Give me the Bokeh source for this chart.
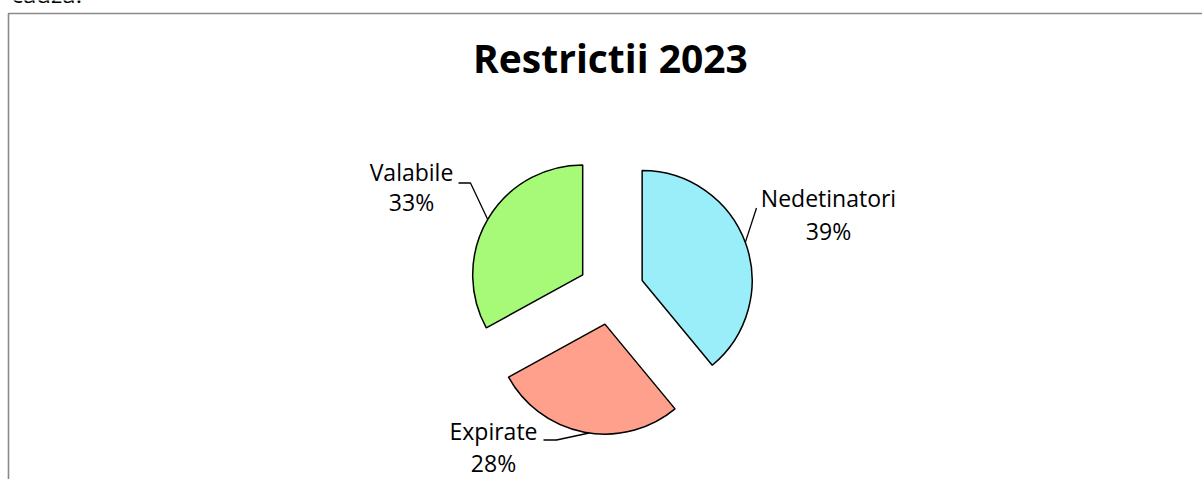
import numpy as np
from bokeh.plotting import figure
from bokeh.models import Range1d, ColumnDataSource
from bokeh.core.properties import value
from bokeh.embed import file_html
from bokeh.resources import INLINE

# ---- data ----
title_text = "Restrictii 2023"
categories = ["Nedetinatori", "Expirate", "Valabile"]
shares = [39, 28, 33]
colors = ["#99EEFA", "#FFA08C", "#A6FA78"]

# ---- layout (page pixel coordinates; data y = 479 - page y) ----
W, H = 1202, 479
def py(y):
    return H - y

# the svg text baseline renders ~0.4 em lower than requested; compensate
def tpos(y, size):
    return py(y - 0.4 * size)

cx, cy = 610.6, py(291.2)
R = 110
explode = 33
FONT = "Open Sans"
LBL = 23
TTL = 39

# label anchors (page coords): center x, name baseline, pct baseline
label_x = [828, 493, 411]
label_y1 = [207, 440, 181]
label_y2 = [240, 472, 211]
# leader line: start points & elbows (page), arc angle (deg, data frame, relative to slice vertex)
lead_start = [(756, 207.5), (543, 439.5), (458, 182.5)]
lead_elbow = [(756, 207.5), (556, 439.5), (470, 182.5)]
lead_angle = [20.3, -98.2, 149.7]

p = figure(width=W, height=H, output_backend="svg", toolbar_location=None,
           x_range=Range1d(0, W), y_range=Range1d(0, H),
           x_axis_type=None, y_axis_type=None, min_border=0)
p.grid.visible = False
p.outline_line_color = None
p.background_fill_color = "white"
p.border_fill_color = "white"

# outer box (only left & top borders visible)
p.quad(left=[8.0], right=[3000], top=[py(13)], bottom=[-500],
       fill_color=None, line_color="#8A8A8A", line_width=1.6)

# cropped text of surrounding document at very top
p.text(x=[11], y=[tpos(2.5, 24)], text=["cauză."], text_font=value(FONT),
       text_font_size="24px", text_align="left", text_baseline="alphabetic",
       text_color="black")

# pie
vals = np.array(shares, dtype=float)
frac = vals / vals.sum()
cum = np.concatenate([[0], np.cumsum(frac)])
start = np.deg2rad(90 - 360 * cum[1:])
end = np.deg2rad(90 - 360 * cum[:-1])
mid = (start + end) / 2
xs = cx + explode * np.cos(mid)
ys = cy + explode * np.sin(mid)
src = ColumnDataSource(dict(x=xs, y=ys, start=start, end=end, color=colors))
p.wedge(x="x", y="y", radius=R, start_angle="start", end_angle="end",
        direction="anticlock", fill_color="color", line_color="black",
        line_width=1.5, source=src)

# leader lines
for i in range(len(categories)):
    a = np.deg2rad(lead_angle[i])
    ax_, ay_ = xs[i] + R * np.cos(a), ys[i] + R * np.sin(a)
    p.line([lead_start[i][0], lead_elbow[i][0], ax_],
           [py(lead_start[i][1]), py(lead_elbow[i][1]), ay_],
           line_color="black", line_width=1.3)

# labels
pct = [f"{round(f * 100)}%" for f in frac]
p.text(x=label_x, y=[tpos(v, LBL) for v in label_y1], text=categories,
       text_font=value(FONT), text_font_size=f"{LBL}px", text_align="center",
       text_baseline="alphabetic", text_color="black")
p.text(x=label_x, y=[tpos(v, LBL) for v in label_y2], text=pct,
       text_font=value(FONT), text_font_size=f"{LBL}px", text_align="center",
       text_baseline="alphabetic", text_color="black")

# title
p.text(x=[610], y=[tpos(73, TTL)], text=[title_text], text_font=value(FONT),
       text_font_size=f"{TTL}px", text_font_style="bold", text_align="center",
       text_baseline="alphabetic", text_color="black")

open("out.html", "w").write(file_html(p, INLINE))
